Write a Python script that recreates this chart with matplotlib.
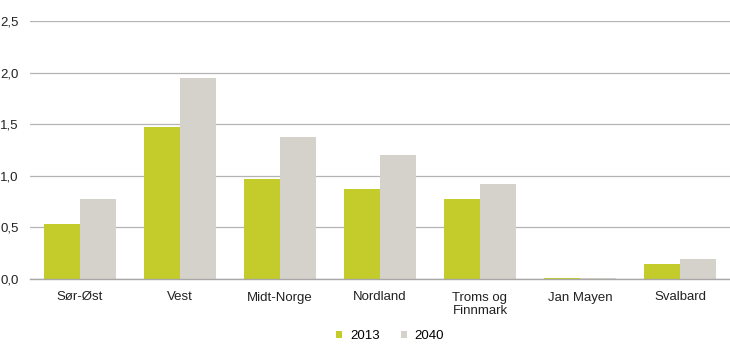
import matplotlib
matplotlib.use("Agg")
import matplotlib.pyplot as plt
import numpy as np

categories = ["Sør-Øst", "Vest", "Midt-Norge", "Nordland", "Troms og\nFinnmark", "Jan Mayen", "Svalbard"]
v2013 = [0.53, 1.47, 0.97, 0.87, 0.775, 0.012, 0.145]
v2040 = [0.775, 1.95, 1.38, 1.20, 0.92, 0.006, 0.19]
yticks = [0.0, 0.5, 1.0, 1.5, 2.0, 2.5]
ytick_labels = ["0,0", "0,5", "1,0", "1,5", "2,0", "2,5"]

plt.rcParams['font.family'] = ['Liberation Sans', 'DejaVu Sans']
fig = plt.figure(figsize=(7.30, 3.59), dpi=100)
ax = fig.add_axes([30/730, 1-279/359, 700/730, 258/359])

x = np.arange(len(categories))
w = 0.36
c1 = "#c3cc2a"
c2 = "#d5d2cc"
ax.bar(x - w/2, v2013, w, color=c1, label="2013", zorder=3)
ax.bar(x + w/2, v2040, w, color=c2, label="2040", zorder=3)

ax.set_xlim(-0.5, len(categories) - 0.5)
ax.set_ylim(0, 2.5)
ax.set_yticks(yticks)
ax.set_yticklabels(ytick_labels)
ax.set_xticks(x)
ax.set_xticklabels(categories, linespacing=1.2)
ax.tick_params(axis='both', length=0, labelsize=9.5, colors="#222222")
ax.tick_params(axis='x', pad=9)
ax.tick_params(axis='y', pad=8)
ax.grid(axis='y', color="#b4b4b4", linewidth=0.9, zorder=0)
for s in ['top', 'right', 'left']:
    ax.spines[s].set_visible(False)
ax.spines['bottom'].set_color("#a8a8a8")
ax.spines['bottom'].set_linewidth(1.0)
ax.spines['bottom'].set_zorder(4)

leg = fig.legend(loc='center', bbox_to_anchor=(390/730, 1-336/359), ncol=2, frameon=False,
                 fontsize=9.5, handlelength=0.45, handleheight=0.45, columnspacing=1.6, handletextpad=0.6)
plt.savefig("out.png", dpi=100)
